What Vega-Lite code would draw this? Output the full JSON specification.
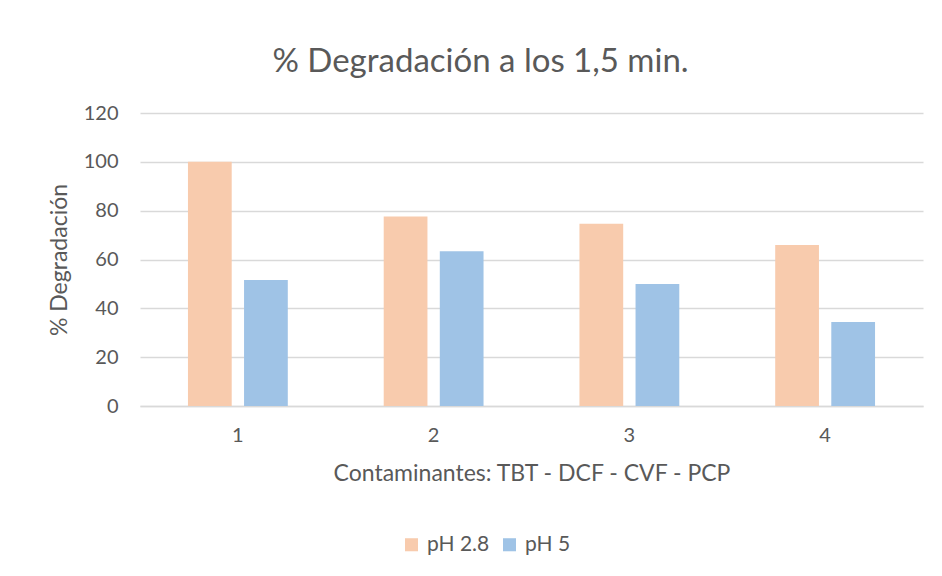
{
  "$schema": "https://vega.github.io/schema/vega-lite/v6.json",
  "width": 783,
  "height": 293,
  "autosize": {"type": "none"},
  "padding": {"left": 140, "top": 113, "right": 19, "bottom": 170},
  "background": "white",
  "title": {
    "text": "% Degradación a los 1,5 min.",
    "anchor": "middle",
    "dx": -51,
    "offset": 24,
    "font": "Lato",
    "fontSize": 33,
    "fontWeight": "normal",
    "color": "#595959"
  },
  "data": {
    "values": [
      {"contaminante": "1", "serie": "pH 2.8", "valor": 100},
      {"contaminante": "1", "serie": "pH 5", "valor": 51.6},
      {"contaminante": "2", "serie": "pH 2.8", "valor": 77.6},
      {"contaminante": "2", "serie": "pH 5", "valor": 63.4},
      {"contaminante": "3", "serie": "pH 2.8", "valor": 74.6},
      {"contaminante": "3", "serie": "pH 5", "valor": 50},
      {"contaminante": "4", "serie": "pH 2.8", "valor": 65.9},
      {"contaminante": "4", "serie": "pH 5", "valor": 34.4}
    ]
  },
  "mark": {"type": "bar"},
  "encoding": {
    "x": {
      "field": "contaminante",
      "type": "nominal",
      "scale": {"paddingInner": 0.49, "paddingOuter": 0.245},
      "axis": {
        "title": "Contaminantes: TBT - DCF - CVF - PCP",
        "labelAngle": 0,
        "labelFont": "Lato",
        "labelFontSize": 20,
        "labelColor": "#595959",
        "labelPadding": 19,
        "ticks": false,
        "domainColor": "#d9d9d9",
        "domainWidth": 1.5,
        "titleFont": "Lato",
        "titleFontSize": 23,
        "titleFontWeight": "normal",
        "titleColor": "#595959",
        "titlePadding": 17
      }
    },
    "xOffset": {
      "field": "serie",
      "type": "nominal",
      "scale": {"paddingInner": 0.22, "paddingOuter": 0}
    },
    "y": {
      "field": "valor",
      "type": "quantitative",
      "scale": {"domain": [0, 120], "nice": false},
      "axis": {
        "title": "% Degradación",
        "values": [0, 20, 40, 60, 80, 100, 120],
        "labelFont": "Lato",
        "labelFontSize": 20,
        "labelColor": "#595959",
        "labelPadding": 22,
        "ticks": false,
        "domain": false,
        "gridColor": "#d9d9d9",
        "gridWidth": 1.5,
        "titleFont": "Lato",
        "titleFontSize": 23,
        "titleFontWeight": "normal",
        "titleColor": "#595959",
        "titlePadding": 12
      }
    },
    "color": {
      "field": "serie",
      "type": "nominal",
      "scale": {"domain": ["pH 2.8", "pH 5"], "range": ["#F8CBAD", "#9FC3E6"]},
      "legend": {
        "title": null,
        "orient": "none",
        "direction": "horizontal",
        "legendX": 261,
        "legendY": 421,
        "symbolType": "square",
        "symbolSize": 170,
        "symbolStrokeWidth": 0,
        "labelFont": "Lato",
        "labelFontSize": 21,
        "labelColor": "#595959",
        "labelOffset": 5,
        "columnPadding": 9
      }
    }
  },
  "config": {
    "view": {"stroke": null}
  }
}
